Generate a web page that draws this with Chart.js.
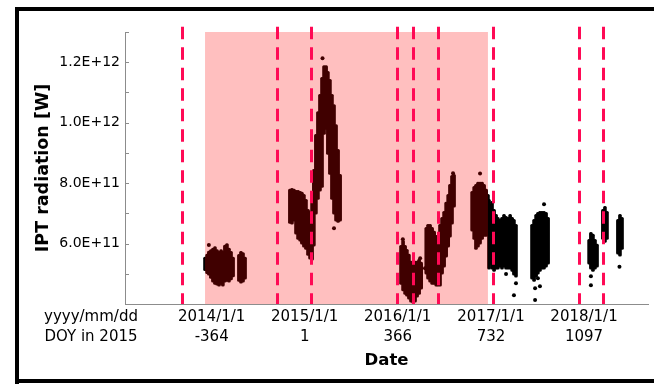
<!DOCTYPE html>
<html>
<head>
<meta charset="utf-8">
<title>IPT radiation</title>
<style>
  html, body { margin: 0; padding: 0; background: #fff; overflow: hidden; }
  #wrap { width: 654px; height: 386px; }
  canvas { display: block; }
</style>
<script src="https://cdn.jsdelivr.net/npm/chart.js@4/dist/chart.umd.min.js"></script>
</head>
<body>
<div id="wrap"><canvas id="chart" width="654" height="386"></canvas></div>
<script>
// IPT radiation, values in units of 1e11 W; time axis is day of year in 2015.
// Each observing period is kept as a spread per time step (lowest / highest value).
const bandDay = [
  -390, -382, -375, -367, -359, -351, -343, -335, -327, -320, -312, -304, -296, -288, -280,
  -257, -249, -241, -233,
  -57, -49, -41, -33, -25, -17, -10, -2, 6, 14, 22, 30, 37, 45, 53, 61, 69, 77, 85, 92, 100,
  108, 116, 124, 132, 140,
  379, 387, 395, 402, 410, 418, 426, 434, 442, 450, 458,
  478, 485, 493, 501, 509, 517, 524, 532, 540, 548, 556, 564, 571, 579, 587,
  658, 666, 673, 681, 689, 697, 705, 713, 720,
  724, 728, 736, 744, 752, 759, 767, 775, 783, 791, 799, 807, 815, 822, 830,
  893, 901, 909, 916, 924, 932, 940, 948, 956,
  1117, 1124, 1132, 1140, 1148,
  1171, 1179, 1187,
  1230, 1238, 1246
];
const bandLow = [
  5.10, 5.00, 4.95, 4.85, 4.72, 4.65, 4.62, 4.59, 4.65, 4.59, 4.72, 4.75, 4.72, 4.80, 4.90,
  4.75, 4.69, 4.72, 4.82,
  6.67, 6.64, 6.74, 6.31, 6.14, 6.08, 5.98, 5.88, 5.81, 5.61, 5.48, 5.45, 5.91, 6.97, 7.46, 7.73, 7.86, 9.61, 9.78, 8.95, 8.29,
  7.46, 6.97, 6.74, 6.70, 6.74,
  4.65, 4.43, 4.32, 4.26, 4.16, 4.06, 4.03, 4.06, 4.23, 4.32, 4.49,
  4.99, 4.82, 4.72, 4.65, 4.65, 4.59, 4.59, 4.59, 4.99, 5.22, 5.55, 5.88, 6.21, 6.64, 7.20,
  6.41, 6.14, 5.81, 5.88, 5.98, 6.14, 6.24, 6.24, 6.31,
  5.15, 5.32, 5.15, 5.08, 5.15, 5.15, 5.22, 5.15, 5.22, 5.15, 5.15, 5.15, 5.08, 4.95, 4.89,
  4.82, 4.75, 4.89, 4.99, 5.08, 5.15, 5.15, 5.22, 5.32,
  5.32, 5.15, 5.08, 5.15, 5.22,
  6.14, 6.04, 6.14,
  5.65, 5.58, 5.81
];
const bandHigh = [
  5.55, 5.65, 5.75, 5.80, 5.85, 5.90, 5.80, 5.74, 5.80, 5.74, 5.95, 6.00, 5.85, 5.74, 5.55,
  5.64, 5.74, 5.70, 5.55,
  7.80, 7.83, 7.80, 7.76, 7.76, 7.73, 7.70, 7.63, 7.46, 7.13, 7.07, 7.46, 8.46, 9.61, 10.37, 10.94, 11.50, 11.89, 11.89, 11.70, 11.43,
  10.94, 10.60, 9.94, 9.12, 8.29,
  5.94, 6.11, 5.94, 5.81, 5.65, 5.42, 5.32, 5.42, 5.42, 5.49, 5.39,
  6.54, 6.64, 6.64, 6.54, 6.41, 6.27, 6.14, 6.64, 6.87, 7.07, 7.37, 7.63, 7.96, 8.26, 8.29,
  7.73, 7.89, 7.96, 8.03, 8.03, 8.03, 7.96, 7.80, 7.63,
  7.46, 7.30, 7.40, 7.13, 6.97, 6.87, 6.80, 6.87, 6.97, 6.90, 6.87, 6.97, 6.87, 6.80, 6.64,
  6.64, 6.80, 6.97, 7.03, 7.07, 7.07, 7.07, 7.03, 6.87,
  6.14, 6.37, 6.31, 6.14, 5.98,
  7.13, 7.23, 7.07,
  6.80, 6.97, 6.87
];

// Isolated readings outside the dense spread
const outlierDay   = [-375, 71, 116, 386, 454, 473, 556, 583, 689, 791, 830, 822, 940, 905, 905, 924, 916, 1124, 1124, 1236];
const outlierValue = [5.95, 12.13, 6.51, 6.14, 5.51, 5.18, 6.64, 8.33, 8.32, 4.99, 4.69, 4.29, 7.30, 4.52, 4.13, 4.59, 4.85, 4.92, 4.62, 5.23];

// Event markers (dashed) and the shaded period, in DOY 2015
const markerDays = [-482, -109, 24, 364, 425, 525, 741, 1077, 1172];
const shadedSpan = [-390, 720];

// Axis ticks
const tickDays  = [-364, 1, 366, 732, 1097];
const tickDates = ['2014/1/1', '2015/1/1', '2016/1/1', '2017/1/1', '2018/1/1'];
const tickDoy   = ['-364', '1', '366', '732', '1097'];
const yTicks    = [4, 5, 6, 7, 8, 9, 10, 11, 12, 13];
const yLabelled = [6, 8, 10, 12];

const FONT = "'DejaVu Sans', sans-serif";
Chart.defaults.font.family = FONT;
Chart.defaults.color = '#000';

const AXIS_GREY = '#8c8c8c';

// White page with a heavy black frame
const framePlugin = {
  id: 'frame',
  beforeDraw(chart) {
    const ctx = chart.ctx;
    ctx.save();
    ctx.fillStyle = '#fff';
    ctx.fillRect(0, 0, chart.width, chart.height);
    ctx.fillStyle = '#000';
    ctx.fillRect(15, 7, 4, 377);
    ctx.fillRect(15, 7, chart.width - 15, 4);
    ctx.fillRect(15, 379, chart.width - 15, 4);
    ctx.restore();
  }
};

// Translucent red band over the shaded period, then dashed event markers
const eventsPlugin = {
  id: 'events',
  afterDatasetsDraw(chart) {
    const ctx = chart.ctx, xs = chart.scales.x, a = chart.chartArea;
    ctx.save();
    const x0 = xs.getPixelForValue(shadedSpan[0]);
    const x1 = xs.getPixelForValue(shadedSpan[1]);
    ctx.fillStyle = 'rgba(255,0,0,0.25)';
    ctx.fillRect(x0, a.top, x1 - x0, a.bottom - a.top);
    ctx.strokeStyle = '#ff0a55';
    ctx.lineWidth = 3;
    ctx.setLineDash([12.5, 8]);
    markerDays.forEach(d => {
      const px = Math.round(xs.getPixelForValue(d)) + 0.5;
      ctx.beginPath();
      ctx.moveTo(px, a.top - 5.3);
      ctx.lineTo(px, a.bottom);
      ctx.stroke();
    });
    ctx.restore();
  },
  afterDraw(chart) {
    const ctx = chart.ctx, ys = chart.scales.y, xs = chart.scales.x, a = chart.chartArea;
    ctx.save();
    // inward tick marks on the value axis
    ctx.strokeStyle = AXIS_GREY;
    ctx.lineWidth = 1;
    ys.ticks.forEach(t => {
      const py = Math.round(ys.getPixelForValue(t.value)) + 0.5;
      ctx.beginPath();
      ctx.moveTo(a.left, py);
      ctx.lineTo(a.left + 4, py);
      ctx.stroke();
    });
    // row captions for the two-line date labels
    ctx.fillStyle = '#000';
    ctx.font = '15px ' + FONT;
    ctx.textAlign = 'center';
    ctx.textBaseline = 'middle';
    const row1 = xs.top + 2.7 + 10;
    ctx.fillText('yyyy/mm/dd', 91, row1);
    ctx.fillText('DOY in 2015', 91, row1 + 20);
    ctx.restore();
  }
};

const bandData = bandDay.map((d, i) => ({ x: d, y: [bandLow[i], bandHigh[i]] }));
const outlierData = outlierDay.map((d, i) => ({ x: d, y: outlierValue[i] }));

new Chart(document.getElementById('chart'), {
  type: 'bar',
  data: {
    datasets: [
      {
        type: 'bar',
        data: bandData,
        backgroundColor: '#000',
        borderWidth: 0,
        barThickness: 3,
        borderRadius: 1.5,
        borderSkipped: false,
        grouped: false
      },
      {
        type: 'scatter',
        data: outlierData,
        backgroundColor: '#000',
        borderWidth: 0,
        pointRadius: 2
      }
    ]
  },
  options: {
    responsive: false,
    animation: false,
    events: [],
    layout: { padding: { top: 32, right: 6, left: 0, bottom: 0 } },
    plugins: { legend: { display: false }, tooltip: { enabled: false } },
    scales: {
      x: {
        type: 'linear',
        min: -704,
        max: 1348,
        offset: false,
        afterBuildTicks: s => { s.ticks = tickDays.map(v => ({ value: v })); },
        afterFit: s => { s.height = 82; },
        grid: { display: false, drawTicks: false, tickLength: 0, offset: false },
        border: { display: true, color: AXIS_GREY, width: 1 },
        ticks: {
          autoSkip: false,
          maxRotation: 0,
          padding: 2.7,
          font: { size: 15, lineHeight: 1.3334 },
          callback: v => {
            const i = tickDays.indexOf(v);
            return i < 0 ? '' : [tickDates[i], tickDoy[i]];
          }
        },
        title: {
          display: true,
          text: 'Date',
          font: { size: 16.5, weight: 'bold' },
          padding: { top: 0, bottom: 15.4 }
        }
      },
      y: {
        min: 4,
        max: 13,
        afterBuildTicks: s => { s.ticks = yTicks.map(v => ({ value: v })); },
        afterFit: s => { s.width = 125; },
        grid: { display: false, drawTicks: false, tickLength: 0 },
        border: { display: true, color: AXIS_GREY, width: 1 },
        ticks: {
          autoSkip: false,
          padding: 5,
          font: { size: 14 },
          callback: v => yLabelled.includes(v) ? (v * 1e11).toExponential(1).toUpperCase() : ''
        },
        title: {
          display: true,
          text: 'IPT radiation [W]',
          font: { size: 17.5, weight: 'bold' },
          padding: { top: 32.5, bottom: 0 }
        }
      }
    }
  },
  plugins: [framePlugin, eventsPlugin]
});
</script>
</body>
</html>
